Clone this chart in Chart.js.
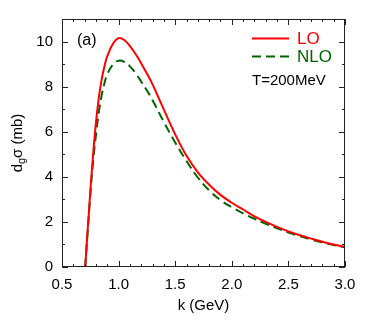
<!DOCTYPE html>
<html lang="en">
<head>
  <meta charset="UTF-8" />
  <title>dg sigma vs k</title>
  <script src="https://cdn.jsdelivr.net/npm/chart.js"></script>
  <style>
    body { margin: 0; background: #fff; }
    canvas { display: block; }
  </style>
</head>
<body>
<canvas id="sigmaChart" width="374" height="320"></canvas>

<script>
  // values
  const kValues = [0.705, 0.75, 0.775, 0.80, 0.825, 0.85, 0.875, 0.90, 0.95, 1.00,
                   1.05, 1.10, 1.15, 1.2, 1.25, 1.3, 1.4, 1.5, 1.6, 1.7, 1.8, 1.9, 2.0,
                   2.1, 2.2, 2.3, 2.4, 2.5, 2.6, 2.7, 2.8, 2.9, 3.0];
  const loValues = [0, 3.35, 5.0, 6.4, 7.5, 8.3, 8.9, 9.35, 9.9, 10.15,
                    10.07, 9.8, 9.45, 9.03, 8.58, 8.1, 6.98, 5.88, 4.93, 4.2, 3.65, 3.2, 2.85,
                    2.55, 2.25, 2.0, 1.78, 1.58, 1.41, 1.26, 1.12, 1.0, 0.9];
  const nloValues = [0, 3.2, 4.7, 5.85, 6.85, 7.6, 8.15, 8.55, 8.98, 9.15,
                     9.1, 8.9, 8.6, 8.22, 7.83, 7.4, 6.43, 5.52, 4.7, 3.97, 3.4, 2.97, 2.65,
                     2.38, 2.14, 1.92, 1.72, 1.53, 1.37, 1.22, 1.09, 0.97, 0.87];
  const xTicks = [0.5, 1.0, 1.5, 2.0, 2.5, 3.0];
  const yTicks = [0, 2, 4, 6, 8, 10];
  const seriesNames = ['LO', 'NLO'];
  const tempLabel = 'T=200MeV';
  const panelLabel = '(a)';

  const FONT = '"Liberation Sans", Arial, sans-serif';
  const RED = '#ff0000';
  const GREEN = '#006400';

  const toPoints = vals => kValues.map((k, i) => ({ x: k, y: vals[i] }));

  // frame + inward ticks on all four sides
  const framePlugin = {
    id: 'frame',
    afterDatasetsDraw(chart) {
      const { ctx, chartArea: a, scales: { x, y } } = chart;
      ctx.save();
      ctx.strokeStyle = '#222';
      ctx.lineWidth = 1;
      ctx.strokeRect(a.left + 0.5, a.top + 0.5, a.right - a.left - 1, a.bottom - a.top - 1);
      ctx.beginPath();
      for (let i = 0; i <= 25; i++) {
        const px = Math.round(x.getPixelForValue(0.5 + i * 0.1)) + 0.5;
        const len = i % 5 === 0 ? 6 : 3;
        ctx.moveTo(px, a.bottom); ctx.lineTo(px, a.bottom - len);
        ctx.moveTo(px, a.top); ctx.lineTo(px, a.top + len);
      }
      for (let v = 0; v <= 11; v++) {
        const py = Math.round(y.getPixelForValue(v)) + 0.5;
        const len = v % 2 === 0 ? 6 : 3;
        ctx.moveTo(a.left, py); ctx.lineTo(a.left + len, py);
        ctx.moveTo(a.right, py); ctx.lineTo(a.right - len, py);
      }
      ctx.stroke();
      ctx.restore();
    }
  };

  // legend, annotations and the y title with its subscript
  const textPlugin = {
    id: 'texts',
    afterDraw(chart) {
      const { ctx, chartArea: a } = chart;
      ctx.save();
      ctx.textBaseline = 'middle';
      ctx.textAlign = 'left';

      ctx.lineWidth = 2;
      ctx.strokeStyle = RED;
      ctx.beginPath(); ctx.moveTo(252, 38.5); ctx.lineTo(289, 38.5); ctx.stroke();
      ctx.strokeStyle = GREEN;
      ctx.setLineDash([9, 5]);
      ctx.beginPath(); ctx.moveTo(252, 56.5); ctx.lineTo(289, 56.5); ctx.stroke();
      ctx.setLineDash([]);

      ctx.font = '17px ' + FONT;
      ctx.fillStyle = RED;
      ctx.fillText(seriesNames[0], 297, 39);
      ctx.fillStyle = GREEN;
      ctx.fillText(seriesNames[1], 297, 57);

      ctx.fillStyle = '#000';
      ctx.font = '15px ' + FONT;
      ctx.fillText(tempLabel, 252, 81);
      ctx.font = '16px ' + FONT;
      ctx.fillText(panelLabel, 77, 41);

      // y title rotated
      ctx.translate(17, (a.top + a.bottom) / 2);
      ctx.rotate(-Math.PI / 2);
      ctx.textBaseline = 'alphabetic';
      const big = '15px ' + FONT, small = '11px ' + FONT;
      ctx.font = big; const wd = ctx.measureText('d').width;
      ctx.font = small; const wg = ctx.measureText('g').width;
      ctx.font = big; const wr = ctx.measureText('σ (mb)').width;
      let cx = -(wd + wg + wr) / 2;
      ctx.font = big; ctx.fillText('d', cx, 5); cx += wd;
      ctx.font = small; ctx.fillText('g', cx, 8); cx += wg;
      ctx.font = big; ctx.fillText('σ (mb)', cx, 5);
      ctx.restore();
    }
  };

  new Chart(document.getElementById('sigmaChart'), {
    type: 'line',
    data: {
      datasets: [
        {
          label: seriesNames[0],
          data: toPoints(loValues),
          borderColor: RED,
          borderWidth: 2,
          pointRadius: 0,
          tension: 0.4,
          fill: false
        },
        {
          label: seriesNames[1],
          data: toPoints(nloValues),
          borderColor: GREEN,
          borderWidth: 2,
          borderDash: [9, 5],
          pointRadius: 0,
          tension: 0.4,
          fill: false
        }
      ]
    },
    options: {
      responsive: false,
      animation: false,
      devicePixelRatio: 1,
      layout: { padding: { left: 0, right: 29, top: 19, bottom: 0 } },
      plugins: { legend: { display: false }, tooltip: { enabled: false } },
      scales: {
        x: {
          type: 'linear',
          min: 0.5, max: 3.0,
          grid: { display: false, drawTicks: false },
          border: { display: false },
          afterBuildTicks: s => { s.ticks = xTicks.map(v => ({ value: v })); },
          afterFit: s => { s.height = 53; },
          ticks: {
            padding: 9,
            color: '#000',
            font: { family: FONT, size: 15 },
            maxRotation: 0,
            callback: v => Number(v).toFixed(1)
          },
          title: {
            display: true,
            text: 'k (GeV)',
            color: '#000',
            font: { family: FONT, size: 15 },
            padding: { top: 0, bottom: 5 }
          }
        },
        y: {
          type: 'linear',
          min: 0, max: 11,
          grid: { display: false, drawTicks: false },
          border: { display: false },
          afterBuildTicks: s => { s.ticks = yTicks.map(v => ({ value: v })); },
          afterFit: s => { s.width = 62; },
          ticks: {
            padding: 9,
            color: '#000',
            font: { family: FONT, size: 15 }
          }
        }
      }
    },
    plugins: [framePlugin, textPlugin]
  });
</script>
</body>
</html>
